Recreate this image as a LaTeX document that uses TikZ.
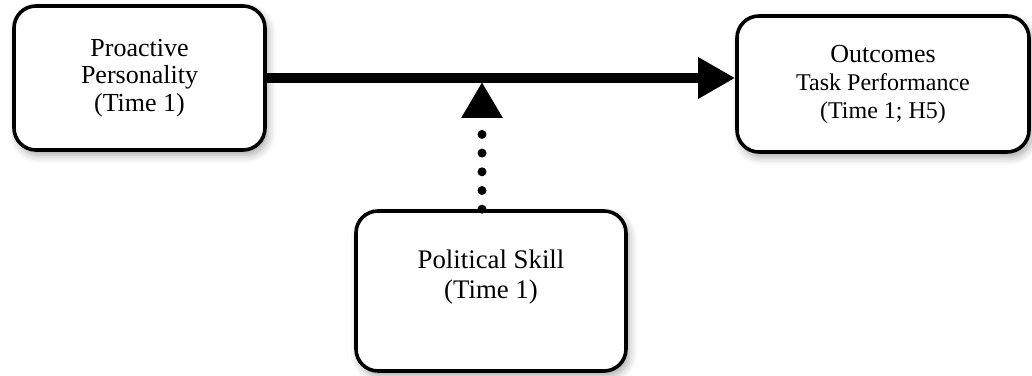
\documentclass[tikz,border=0pt]{standalone}
\usepackage{fontspec}
\setmainfont{Liberation Serif}
\usetikzlibrary{%
  arrows.meta,
  shadows.blur
}
\tikzset{
  varbox/.style={draw=black, line width=1.8pt, rounded corners=11pt,
                 fill=white, align=center,
                 blur shadow={shadow xshift=1.5pt, shadow yshift=-2.5pt,
                              shadow blur radius=4pt, shadow opacity=35}},
  big text/.style={font=\fontsize{13}{13.75}\selectfont}
}

\begin{document}
\begin{tikzpicture}[  main path/.style={
    line width=5pt,
    -{Triangle[length=18.5pt,width=19.5pt]}
  } ,moderator/.style={
    line width=4.5pt, line cap=round,
    dash pattern=on 0pt off 9.35pt,
    -{Triangle[length=18pt,width=19.5pt]}
  }
]
\useasboundingbox (0,0) rectangle (516pt,187.5pt);

\node[varbox, big text, minimum width=125.5pt, minimum height=72pt]
      (proactive) at (69.75pt,148.5pt) {Proactive\\Personality\\(Time 1)};
\node[varbox, minimum width=146pt, minimum height=68pt,
      font=\fontsize{12}{14}\selectfont]
      (outcomes) at (441.5pt,145.5pt)
      {{\fontsize{13}{14}\selectfont Outcomes}\\Task Performance\\(Time 1; H5)};
\node[varbox, minimum width=135pt, minimum height=80pt]
      (skill) at (245.5pt,42pt) {};
\node[font=\fontsize{13.4}{15}\selectfont, align=center]
      (skilltext) at ([yshift=7pt]skill.center) {Political Skill\\(Time 1)};

% the arrows
\coordinate (hit) at (241pt,146.5pt);
\draw[main path] (proactive.east) -- (proactive.east -| outcomes.west);
\draw[moderator] (hit |- skill.north) -- (hit);
\end{tikzpicture}
\end{document}
